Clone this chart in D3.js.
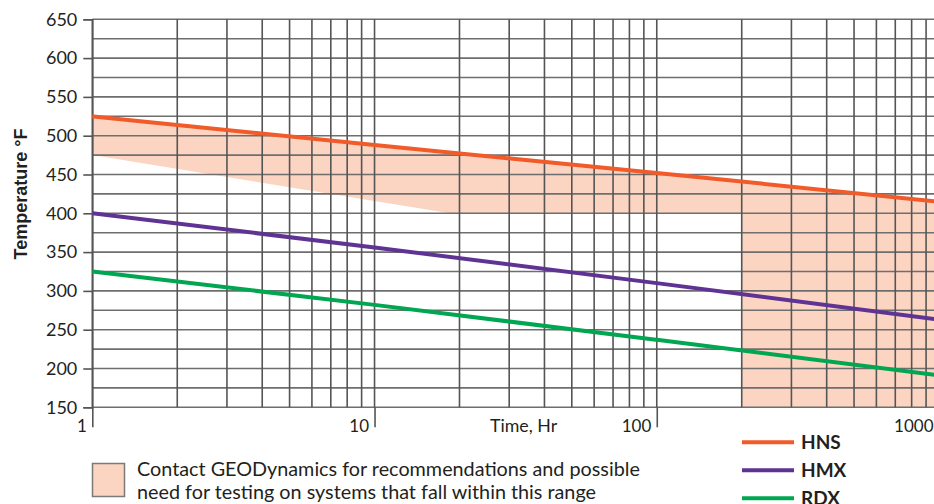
<!DOCTYPE html>
<html>
<head>
<meta charset="utf-8">
<script src="https://cdn.jsdelivr.net/npm/d3@7"></script>
<style>
  html, body { margin: 0; padding: 0; background: #fff; }
  svg { display: block; }
</style>
</head>
<body>
<svg id="chart" width="934" height="504"></svg>
<script>
// ---- data ----
const times = [1, 10, 100, 1000];
const hnsValues = [525, 488, 452, 415];
const hmxValues = [400, 356, 310, 263];
const rdxValues = [325, 282, 237, 191];
const shadeLowerTimes = [1000, 200, 200, 18.5, 1];
const shadeLowerValues = [150, 150, 400, 400, 475];
const yTickValues = [150, 200, 250, 300, 350, 400, 450, 500, 550, 600, 650];
const xTickValues = [1, 10, 100, 1000];
const xTickLabels = ["1", "10", "100", "1000"];
const seriesNames = ["HNS", "HMX", "RDX"];
const seriesColors = ["#f15a29", "#5f3393", "#00a651"];
const shadeNote = ["Contact GEODynamics for recommendations and possible",
                   "need for testing on systems that fall within this range"];

const svg = d3.select("#chart");
const x = d3.scaleLog().domain([1, 1000]).range([92.3, 939]);
const y = d3.scaleLinear().domain([150, 650]).range([407.3, 19.3]);

// shaded region
const upper = times.map((t, i) => [t, hnsValues[i]]);
const lower = shadeLowerTimes.map((t, i) => [t, shadeLowerValues[i]]);
const poly = upper.concat(lower);
svg.append("path")
  .attr("d", d3.line().x(d => x(d[0])).y(d => y(d[1]))(poly) + "Z")
  .attr("fill", "#fcd4c2");

// grid
const hGrid = d3.range(150, 651, 25);
svg.append("g").selectAll("line").data(hGrid).join("line")
  .attr("x1", x(1)).attr("x2", 939)
  .attr("y1", d => y(d)).attr("y2", d => y(d))
  .attr("stroke", "#6e6e6e").attr("stroke-width", 1.6);

const vGrid = [];
[1, 10, 100].forEach(dec => { for (let k = 1; k <= 9; k++) vGrid.push(dec * k); });
vGrid.push(1000);
svg.append("g").selectAll("line").data(vGrid).join("line")
  .attr("x1", d => x(d)).attr("x2", d => x(d))
  .attr("y1", y(650)).attr("y2", y(150))
  .attr("stroke", "#555").attr("stroke-width", 1.6);

// y axis
const yAxis = d3.axisLeft(y).tickValues(yTickValues).tickSize(9).tickPadding(6);
const gy = svg.append("g").attr("transform", `translate(${x(1)},0)`).call(yAxis);
gy.select(".domain").attr("stroke", "#555").attr("stroke-width", 1.6);
gy.selectAll(".tick line").attr("stroke", "#555").attr("stroke-width", 1.6);
gy.selectAll(".tick text").attr("font-family", "Lato").attr("font-size", 18).attr("fill", "#231f20");

// x axis
const xAxis = d3.axisBottom(x).tickValues(xTickValues).tickSize(20).tickFormat((d, i) => xTickLabels[i]);
const gx = svg.append("g").attr("transform", `translate(0,${y(150)})`).call(xAxis);
gx.select(".domain").remove();
gx.selectAll(".tick line").attr("stroke", "#555").attr("stroke-width", 1.6);
gx.selectAll(".tick text")
  .attr("font-family", "Lato").attr("font-size", 17).attr("fill", "#231f20")
  .attr("text-anchor", "end").attr("x", -6).attr("y", 13).attr("dy", "0.71em");

svg.append("text").attr("x", 490).attr("y", 432)
  .attr("font-family", "Lato").attr("font-size", 17.8).attr("fill", "#231f20")
  .text("Time, Hr");

svg.append("text")
  .attr("transform", `translate(27,194) rotate(-90)`)
  .attr("text-anchor", "middle")
  .attr("font-family", "Liberation Sans").attr("font-weight", "bold").attr("font-size", 18)
  .attr("fill", "#231f20")
  .text("Temperature °F");

// series lines
const allSeries = [hnsValues, hmxValues, rdxValues];
const line = d3.line().x(d => x(d[0])).y(d => y(d[1])).curve(d3.curveMonotoneX);
allSeries.forEach((vals, i) => {
  svg.append("path")
    .attr("d", line(times.map((t, j) => [t, vals[j]])))
    .attr("fill", "none").attr("stroke", seriesColors[i]).attr("stroke-width", 4);
});

// legend
const lg = svg.append("g");
seriesNames.forEach((name, i) => {
  const ly = 442.3 + i * 28;
  lg.append("line").attr("x1", 742).attr("x2", 794).attr("y1", ly).attr("y2", ly)
    .attr("stroke", seriesColors[i]).attr("stroke-width", 4);
  lg.append("text").attr("x", 801).attr("y", ly + 6.5)
    .attr("font-family", "Lato").attr("font-weight", "bold").attr("font-size", 19)
    .attr("fill", "#231f20").text(name);
});

svg.append("rect").attr("x", 92.5).attr("y", 463.5).attr("width", 32).attr("height", 33)
  .attr("fill", "#fcd4c2").attr("stroke", "#7a7a7a").attr("stroke-width", 1.5);
shadeNote.forEach((t, i) => {
  svg.append("text").attr("x", 137).attr("y", 475.5 + i * 23)
    .attr("font-family", "Lato").attr("font-size", 19.8).attr("fill", "#231f20").text(t);
});
</script>
</body>
</html>
